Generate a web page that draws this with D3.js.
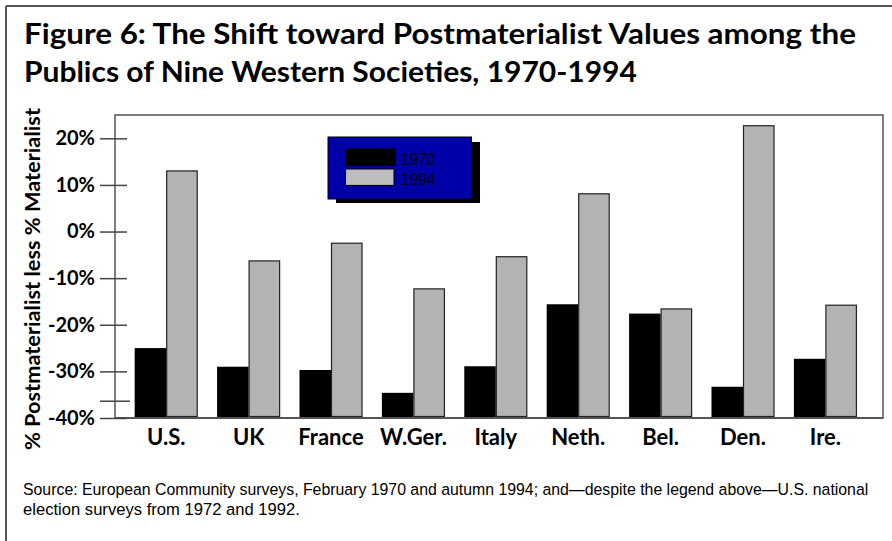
<!DOCTYPE html>
<html>
<head>
<meta charset="utf-8">
<script src="https://cdn.jsdelivr.net/npm/d3@7"></script>
<style>
  body { margin: 0; background: #fff; }
  svg { display: block; }
</style>
</head>
<body>
<svg id="chart"></svg>
<script>
const countries = ['U.S.', 'UK', 'France', 'W.Ger.', 'Italy', 'Neth.', 'Bel.', 'Den.', 'Ire.'];
const years = ['1970', '1994'];
const values1970 = [-25, -29, -29.7, -34.6, -28.9, -15.6, -17.6, -33.3, -27.3];
const values1994 = [13, -6.3, -2.5, -12.3, -5.4, 8.1, -16.6, 22.7, -15.8];
const yTicks = [20, 10, 0, -10, -20, -30, -40];
const extraTicks = [-36.4];
const titleLines = ['Figure 6: The Shift toward Postmaterialist Values among the', 'Publics of Nine Western Societies, 1970-1994'];
const sourceLines = ['Source: European Community surveys, February 1970 and autumn 1994; and\u2014despite the legend above\u2014U.S. national', 'election surveys from 1972 and 1992.'];

const width = 892, height = 541;
const svg = d3.select('#chart').attr('width', width).attr('height', height);

const colors = { '1970': '#000', '1994': '#b3b3b3' };
const rows = countries.map((c, i) => ({ country: c, '1970': values1970[i], '1994': values1994[i] }));

// squeeze a text horizontally so it spans the given width
function fitText(sel, x, y, w) {
    sel.each(function (d, i) {
        const t = d3.select(this);
        const natural = this.getComputedTextLength();
        const k = (typeof w === 'function' ? w(d, i) : w) / natural;
        const ty = typeof y === 'function' ? y(d, i) : y;
        t.attr('transform', `translate(${x},${ty}) scale(${k},1)`);
    });
}

// outer frame (only top and left edges show)
svg.append('line').attr('x1', 6).attr('y1', 6).attr('x2', width).attr('y2', 6).attr('stroke', '#555').attr('stroke-width', 2);
svg.append('line').attr('x1', 6).attr('y1', 6).attr('x2', 6).attr('y2', height).attr('stroke', '#555').attr('stroke-width', 2);

// title
svg.selectAll('.title').data(titleLines).enter().append('text').attr('class', 'title')
    .style('font-family', 'Lato, "Open Sans", sans-serif').style('font-weight', 'bold').style('font-size', '29px')
    .text(d => d)
    .call(fitText, 24, (d, i) => 44 + i * 38, (d, i) => i === 0 ? 832 : 613);

// scales
const x = d3.scaleBand().domain(countries).range([125, 866.6]).paddingInner(0.235).paddingOuter(0.1175);
const xSub = d3.scaleBand().domain(years).range([0, x.bandwidth()]);
const y = d3.scaleLinear().domain([-40, 25]).range([418, 115]);

// plot box
svg.append('rect').attr('x', 115).attr('y', y(25)).attr('width', 883 - 115).attr('height', y(-40) - y(25))
    .attr('fill', 'none').attr('stroke', '#555').attr('stroke-width', 1.5);

// bars
const groups = svg.selectAll('.group').data(rows).enter().append('g').attr('class', 'group')
    .attr('transform', d => `translate(${x(d.country)},0)`);
groups.selectAll('rect').data(d => years.map(yr => ({ year: yr, value: d[yr] }))).enter().append('rect')
    .attr('x', d => xSub(d.year) + (d.year === '1994' ? 0.5 : 0))
    .attr('y', d => y(d.value))
    .attr('width', d => xSub.bandwidth() - (d.year === '1994' ? 1 : 0))
    .attr('height', d => y(-40) - y(d.value) - (d.year === '1994' ? 1.5 : 0))
    .attr('fill', d => colors[d.year])
    .attr('stroke', d => d.year === '1994' ? '#222' : 'none')
    .attr('stroke-width', 1.2);

// bottom edge over the bars
svg.append('line').attr('x1', 115).attr('x2', 883).attr('y1', y(-40)).attr('y2', y(-40)).attr('stroke', '#555').attr('stroke-width', 2);

// y axis ticks crossing the left edge
const yAxis = svg.append('g').attr('transform', 'translate(127,0)')
    .call(d3.axisLeft(y).tickValues(yTicks).tickSize(27).tickPadding(5).tickFormat(d => d + '%'));
yAxis.select('.domain').remove();
yAxis.selectAll('.tick line').attr('stroke', '#444').attr('stroke-width', 1.5);
yAxis.selectAll('.tick text').attr('fill', '#000')
    .style('font-family', 'Lato, "Open Sans", sans-serif').style('font-weight', 'bold').style('font-size', '20px');
svg.selectAll('.extra-tick').data(extraTicks).enter().append('line').attr('class', 'extra-tick')
    .attr('x1', 100).attr('x2', 130).attr('y1', d => y(d)).attr('y2', d => y(d))
    .attr('stroke', '#444').attr('stroke-width', 1.5);

// x labels
svg.selectAll('.xlabel').data(countries).enter().append('text').attr('class', 'xlabel')
    .attr('x', d => x(d) + x.bandwidth() / 2).attr('y', 445).attr('text-anchor', 'middle')
    .style('font-family', 'Lato, "Open Sans", sans-serif').style('font-weight', 'bold').style('font-size', '22px')
    .text(d => d);

// y axis title
svg.append('text').attr('transform', 'translate(40,279) rotate(-90)').attr('text-anchor', 'middle')
    .attr('textLength', 342).attr('lengthAdjust', 'spacingAndGlyphs')
    .style('font-family', 'Lato, "Open Sans", sans-serif').style('font-weight', 'bold').style('font-size', '20.5px')
    .text('% Postmaterialist less % Materialist');

// legend
const legend = svg.append('g').attr('transform', 'translate(328,137)');
legend.append('rect').attr('x', 8).attr('y', 5).attr('width', 144).attr('height', 61).attr('fill', '#000');
legend.append('rect').attr('x', 0).attr('y', 0).attr('width', 143.5).attr('height', 62)
    .attr('fill', '#0000a8').attr('stroke', '#000').attr('stroke-width', 1);
const items = legend.selectAll('.item').data(years).enter().append('g').attr('class', 'item')
    .attr('transform', (d, i) => `translate(17.5,${12 + i * 20})`);
items.append('rect').attr('width', (d, i) => i === 0 ? 50 : 48.5).attr('height', 16.4)
    .attr('fill', d => d === '1994' ? '#bdbdbd' : '#000').attr('stroke', '#000').attr('stroke-width', 1);
items.append('text')
    .style('font-family', '"Liberation Sans", Arial, sans-serif').style('font-size', '17px').attr('fill', '#000')
    .text(d => d)
    .call(fitText, 55.5, 15.5, 34);

// source note
svg.selectAll('.source').data(sourceLines).enter().append('text').attr('class', 'source')
    .style('font-family', '"Liberation Sans", Arial, sans-serif').style('font-size', '17px').attr('fill', '#000')
    .text(d => d)
    .call(fitText, 23, (d, i) => 495 + i * 19.5, (d, i) => i === 0 ? 846 : 277);
</script>
</body>
</html>
